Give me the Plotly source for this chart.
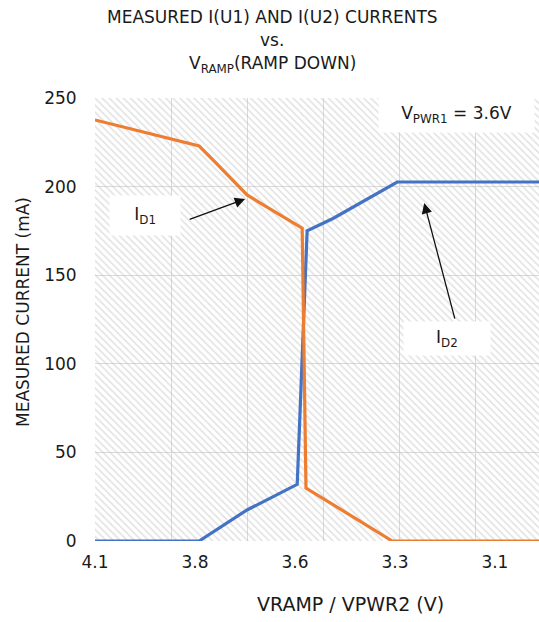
import plotly.graph_objects as go

# ---- data ----
vramp_d1 = [4.10, 3.826, 3.78, 3.70, 3.665, 3.555, 3.545, 3.318, 2.93]
current_d1 = [237.6, 222.9, 213.0, 195.3, 190.7, 176.6, 29.9, 0.0, 0.0]

vramp_d2 = [4.10, 3.826, 3.70, 3.568, 3.542, 3.474, 3.305, 2.93]
current_d2 = [0.0, 0.0, 17.5, 32.0, 175.0, 182.0, 202.6, 202.6]

x_tick_vals = [4.1, 3.837, 3.574, 3.311, 3.048]
x_tick_text = ["4.1", "3.8", "3.6", "3.3", "3.1"]
x_grid_vals = [4.1, 3.9, 3.7, 3.5, 3.3, 3.1]
y_tick_vals = [0, 50, 100, 150, 200, 250]

x_range = [4.1, 2.932]
y_range = [0, 250]

ORANGE = "#ED7D31"
BLUE = "#4472C4"
GRID = "#d9d9d9"
FONT = "DejaVu Sans"
TXT = "#1a1a1a"

W, H = 539, 622
PL, PR, PT, PB = 95, 539, 98, 541  # plot area in page pixels
PW, PH = PR - PL, PB - PT


def px(xp):
    return (xp - PL) / PW


def py(yp):
    return (PB - yp) / PH


fig = go.Figure()

# hatched plot background
fig.add_trace(go.Scatter(
    x=[x_range[0], x_range[0], x_range[1], x_range[1], x_range[0]],
    y=[y_range[0], y_range[1], y_range[1], y_range[0], y_range[0]],
    mode="lines", line=dict(width=0), fill="toself",
    fillcolor="rgba(0,0,0,0)",
    fillpattern=dict(shape="\\", fgcolor="#c4c4c4", bgcolor="rgba(0,0,0,0)",
                     size=5, solidity=0.3),
    hoverinfo="skip", showlegend=False))

fig.add_trace(go.Scatter(x=vramp_d2, y=current_d2, mode="lines",
                         line=dict(color=BLUE, width=3.2), showlegend=False,
                         name="I_D2"))
fig.add_trace(go.Scatter(x=vramp_d1, y=current_d1, mode="lines",
                         line=dict(color=ORANGE, width=3.2), showlegend=False,
                         name="I_D1"))

fig.update_layout(
    width=W, height=H,
    margin=dict(l=PL, r=W - PR, t=PT, b=H - PB, pad=0, autoexpand=False),
    paper_bgcolor="white", plot_bgcolor="white",
    font=dict(family=FONT, color=TXT, size=16),
    showlegend=False,
)

fig.update_xaxes(
    range=x_range, tickmode="array", tickvals=x_tick_vals, ticktext=x_tick_text,
    showgrid=False, zeroline=False, showline=False,
    ticks="outside", ticklen=6, tickcolor="rgba(0,0,0,0)",
    tickfont=dict(size=17, family=FONT, color=TXT),
    minor=dict(tickmode="array", tickvals=x_grid_vals, showgrid=True,
               gridcolor=GRID, gridwidth=1, ticks=""),
    automargin=False,
)
fig.update_yaxes(
    range=y_range, tickmode="array", tickvals=y_tick_vals,
    showgrid=True, gridcolor=GRID, gridwidth=1, zeroline=False, showline=False,
    ticks="outside", ticklen=14, tickcolor="rgba(0,0,0,0)",
    tickfont=dict(size=17, family=FONT, color=TXT),
    automargin=False,
)


def label(text, xp, yp, size, **kw):
    fig.add_annotation(text=text, xref="paper", yref="paper",
                       x=px(xp), y=py(yp), xanchor="center", yanchor="middle",
                       showarrow=False,
                       font=dict(size=size, family=FONT, color=TXT), **kw)


# title
label("MEASURED I(U1) AND I(U2) CURRENTS", 272, 17, 17)
label("vs.", 272, 40, 17)
label("V<sub>RAMP</sub>(RAMP DOWN)", 272, 64, 17)

# axis titles
label("VRAMP / VPWR2 (V)", 350, 604, 19)
label("MEASURED CURRENT (mA)", 23, 312, 17, textangle=-90)

# labels in white boxes
label("   V<sub>PWR1</sub> = 3.6V   ", 456, 114, 17, bgcolor="white", borderpad=6)
label("   I<sub>D1</sub>   ", 145, 215, 17, bgcolor="white", borderpad=8)
label("     I<sub>D2</sub>     ", 447, 338, 17, bgcolor="white", borderpad=5)

# arrows
fig.add_annotation(x=3.705, y=193, text="", showarrow=True, ax=-57, ay=21,
                   arrowhead=2, arrowsize=1.6, arrowwidth=1.3, arrowcolor="#111")
fig.add_annotation(x=3.234, y=190.7, text="", showarrow=True, ax=31, ay=117,
                   arrowhead=2, arrowsize=1.6, arrowwidth=1.3, arrowcolor="#111")

fig.write_html(
    "out.html",
    config={"displayModeBar": False},
    post_script="document.body.style.margin='0';document.body.style.overflow='hidden';",
)
